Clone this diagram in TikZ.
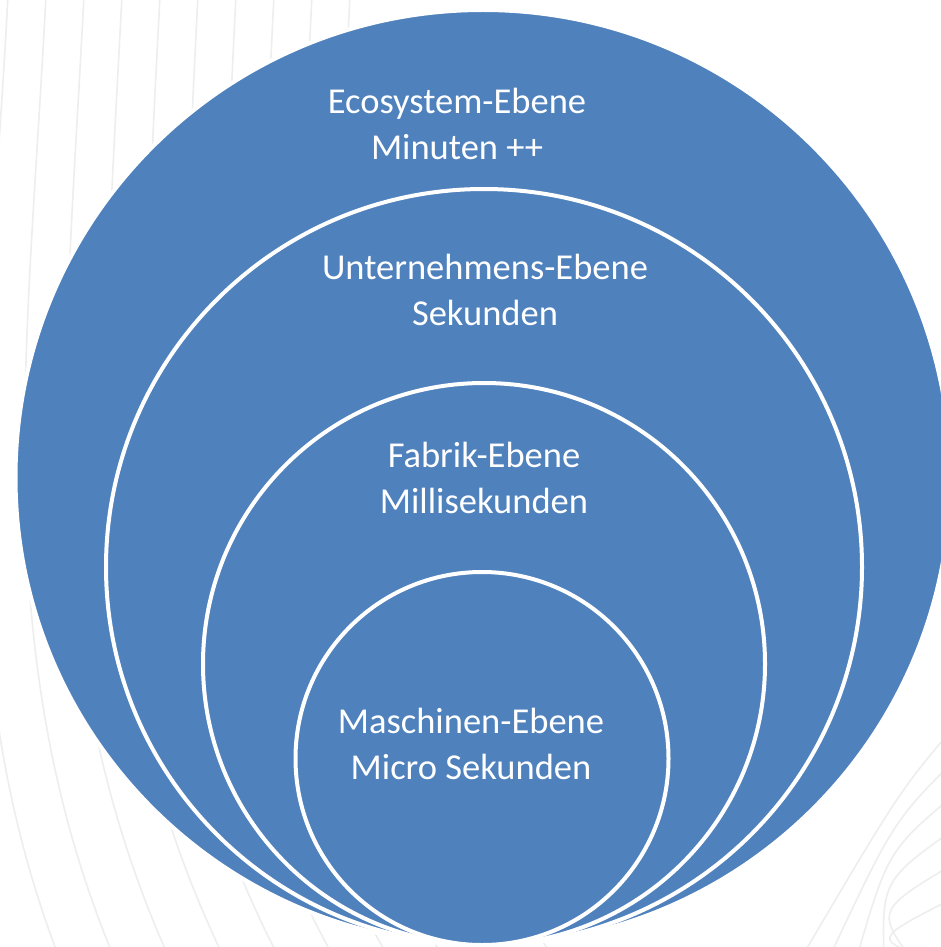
\documentclass[tikz,border=0pt]{standalone}
\usepackage{fontspec}
\setmainfont{Carlito}
\definecolor{ringblue}{RGB}{79,129,189}
\definecolor{waveline}{RGB}{238,238,238}
\tikzset{
  ring/.style={circle, fill=ringblue, draw=white, line width=4pt, inner sep=0pt, minimum size=#1},
  lbl/.style={text=white, align=center, inner sep=0pt, anchor=base,
              font=\fontsize{36.5}{46}\selectfont},
  wave/.style={draw=waveline, line width=1.6pt}
}
\begin{document}
\begin{tikzpicture}[x=1pt, y=-1pt]
  \useasboundingbox (0,0) rectangle (941,947);
  \clip (0,0) rectangle (941,947);
  \fill[white] (0,0) rectangle (941,947);

  % faint wavy backdrop lines
  \foreach \i in {0,...,9} {
    \draw[wave] ({8+38*\i},-5) .. controls ({-10+38*\i},350) and ({-60+45*\i},650) .. ({60+55*\i},960);
  }
  \foreach \i in {0,...,5} {
    \draw[wave] ({960},{720+35*\i}) .. controls ({900-6*\i},{790+30*\i}) .. ({800+28*\i},960);
  }

  % nested levels, all touching at the bottom
  \node[ring=935pt] (eco)  at (483,477.5) {};
  \node[ring=756pt] (firm) at (484,567)   {};
  \node[ring=562pt] (fab)  at (484,664)   {};
  \node[ring=373pt] (mach) at (482,758.5) {};

  % labels (anchored on the baseline of the second line)
  \node[lbl] (ecoT)  at (457,159) {Ecosystem-Ebene\\Minuten ++};
  \node[lbl] (firmT) at (485,325) {Unternehmens-Ebene\\Sekunden};
  \node[lbl] (fabT)  at (484,513) {Fabrik-Ebene\\Millisekunden};
  \node[lbl] (machT) at (471,779) {Maschinen-Ebene\\Micro Sekunden};
\end{tikzpicture}
\end{document}
